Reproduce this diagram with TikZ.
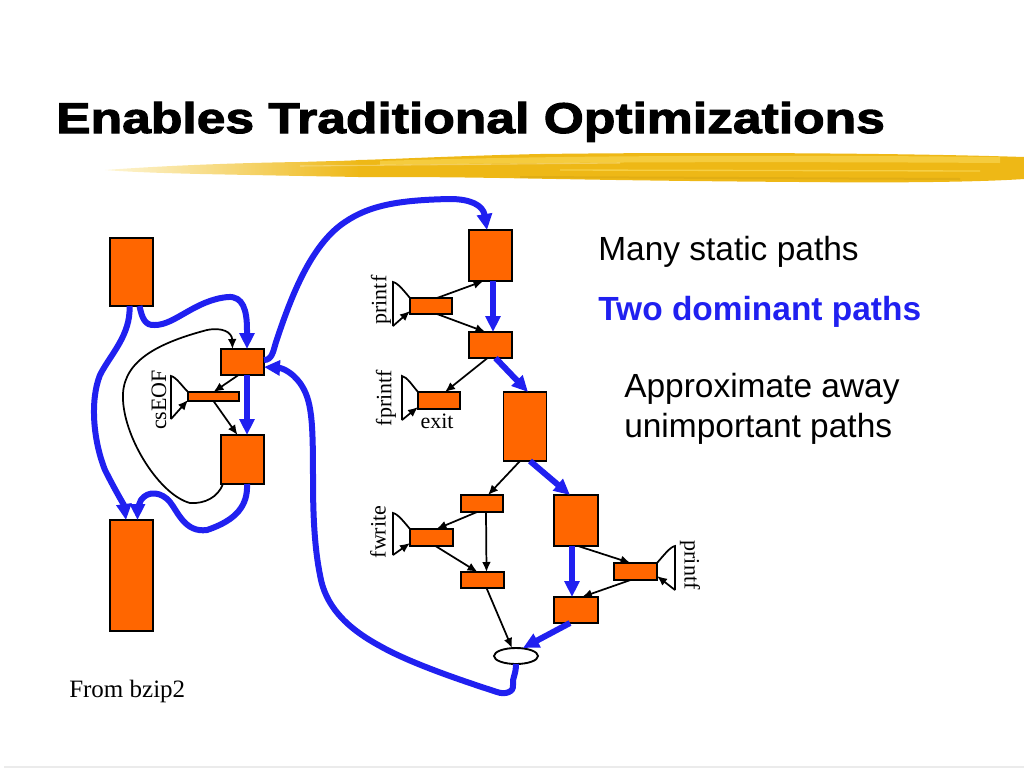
\documentclass[tikz,border=0pt]{standalone}
\usepackage{fontspec}
\setmainfont{Liberation Serif}
\newfontfamily\sansf{Liberation Sans}
\newfontfamily\titlef{Liberation Sans}[FakeStretch=1.2,BoldFeatures={FakeBold=2.5}]
\usetikzlibrary{arrows.meta,shapes.geometric,calc}
\definecolor{orng}{RGB}{255,102,0}
\definecolor{blu}{RGB}{32,32,240}
\definecolor{gold}{RGB}{238,184,22}
\definecolor{lgold}{RGB}{250,218,90}
\newlength\px \setlength\px{0.75pt}
\begin{document}
\begin{tikzpicture}[x=0.75pt,y=-0.75pt,
  bb/.style n args={2}{draw=black,line width=1.4pt,fill=orng,inner sep=0pt,outer sep=0pt,minimum width=#1\px,minimum height=#2\px},
  hot/.style={draw=blu,line width=4.5pt,-{Triangle[length=12pt,width=11pt]}},
  cold/.style={draw=black,line width=1.3pt,-{Latex[length=7.5pt,width=6.5pt]}},
  callsym/.style={draw=black,line width=1.3pt},
  lbl/.style={font=\fontsize{16.5}{18}\selectfont,inner sep=0pt},
  txt/.style={font=\sansf\fontsize{25.1}{30}\selectfont,inner sep=0pt,anchor=base west},
]
\useasboundingbox (0,0) rectangle (1024,768);

% brush stroke
\shade[left color=lgold!25, right color=gold]
  (105,170) .. controls (160,166) and (230,163) .. (300,162)
  .. controls (330,161) and (345,161) .. (360,160) -- (360,177)
  .. controls (300,176) and (250,175) .. (200,174)
  .. controls (160,173) and (130,172) .. (105,170) -- cycle;
\fill[gold]
  (358,160) .. controls (400,159) and (450,156) .. (540,154)
  .. controls (700,152) and (900,153) .. (1024,157) -- (1024,179)
  .. controls (980,182) and (900,183) .. (800,182)
  .. controls (650,181) and (560,179) .. (500,178)
  .. controls (440,177) and (400,177) .. (358,177) -- cycle;
\fill[lgold,opacity=0.6]
  (380,161) .. controls (500,157) and (700,154) .. (1000,157) -- (1000,163)
  .. controls (700,161) and (500,163) .. (380,165) -- cycle;
\draw[lgold,opacity=0.7,line width=1pt] (560,170) -- (980,171);
\draw[white,opacity=0.3,line width=0.8pt] (300,166) -- (620,163);
\draw[gold!80!black,opacity=0.25,line width=1.5pt] (520,177) -- (960,179);

\node[anchor=base west,inner sep=0pt,font=\titlef\bfseries\fontsize{32.25}{36}\selectfont] (title) at (56,133) {Enables Traditional Optimizations};

% left part
\node[bb={43}{68}] (A) at (131.5,272) {};
\node[bb={43}{26}] (B) at (242.5,362) {};
\node[bb={51}{9}] (cs) at (213.5,396.5) {};
\node[bb={43}{49}] (C) at (242.5,459.5) {};
\node[bb={43}{111}] (D) at (131.5,575.5) {};

% right part
\node[bb={43}{51}] (P1) at (490.5,255.5) {};
\node[bb={42}{16}] (pf1) at (431,306) {};
\node[bb={43}{26}] (P2) at (490.5,345) {};
\node[bb={42}{17}] (ex) at (439,400.5) {};
\node[bb={43}{69}] (P3) at (525,426.5) {};
\node[bb={42}{17}] (Q1) at (482,503.5) {};
\node[bb={43}{17}] (fw) at (431.5,537.5) {};
\node[bb={43}{16}] (Q2) at (482.5,580) {};
\node[bb={44}{51}] (R1) at (576,520.5) {};
\node[bb={43}{17}] (pf2) at (635.5,571.5) {};
\node[bb={44}{26}] (R2) at (576,610) {};
\node[ellipse,draw=black,line width=1.4pt,fill=white,inner sep=0pt,outer sep=0pt,minimum width=44\px,minimum height=16\px] (E) at (516,656) {};

% call symbols
\coordinate (csT) at (171,376); \coordinate (csB) at (171,419);
\draw[callsym] (cs.north west) .. controls (182,386) and (176,377) .. (csT) -- (csB);
\draw[cold] (csB) -- ([yshift=1\px]cs.south west);
\coordinate (pf1T) at (393,282); \coordinate (pf1B) at (393,326);
\draw[callsym] (pf1.north west) .. controls (404,291) and (398,283) .. (pf1T) -- (pf1B);
\draw[cold] (pf1B) -- ([yshift=3\px]pf1.south west);
\coordinate (exT) at (402,376); \coordinate (exB) at (402,420);
\draw[callsym] (ex.north west) .. controls (412,385) and (407,377) .. (exT) -- (exB);
\draw[cold] (exB) -- ([yshift=2\px]ex.south west);
\coordinate (fwT) at (393,513); \coordinate (fwB) at (393,555);
\draw[callsym] (fw.north west) .. controls (404,522) and (398,514) .. (fwT) -- (fwB);
\draw[cold] (fwB) -- ([yshift=3\px]fw.south west);
\coordinate (pf2T) at (675,546); \coordinate (pf2B) at (675,590);
\draw[callsym] (pf2.north east) .. controls (664,555) and (670,547) .. (pf2T) -- (pf2B);
\draw[cold] (pf2B) -- ([yshift=4\px]pf2.south east);

% labels
\node[lbl,rotate=90] (lcs) at (159,400) {csEOF};
\node[lbl,rotate=90] (lpf1) at (381,300) {printf};
\node[lbl,rotate=90] (lfp) at (386,398) {fprintf};
\node[lbl,anchor=base] (lex) at (437,428) {exit};
\node[lbl,rotate=90] (lfw) at (378,532) {fwrite};
\node[lbl,rotate=-90] (lpf2) at (690,565) {printf};

% black edges
\draw[cold] ([xshift=-4\px]B.south) -- (cs.north);
\draw[cold] (cs.south) -- ([xshift=-5\px]C.north);
\draw[cold] ([xshift=2\px]C.south west) .. controls (218,497) and (205,504) .. (190,503)
  .. controls (160,495) and (125,440) .. (123,400)
  .. controls (121,365) and (150,345) .. (207,330)
  .. controls (222,327) and (232,332) .. ([xshift=-10\px]B.north);
\draw[cold] ([xshift=6\px]pf1.north) -- ([xshift=-7\px]P1.south);
\draw[cold] ([xshift=6\px]pf1.south) -- ([xshift=-5\px]P2.north);
\draw[cold] ([xshift=-3\px]P2.south) -- ([xshift=6\px]ex.north);
\draw[cold] ([xshift=-5\px]P3.south) -- ([xshift=6\px]Q1.north);
\draw[cold] ([xshift=-5\px]Q1.south) -- ([xshift=5\px]fw.north);
\draw[cold] ([xshift=4\px]Q1.south) -- ([xshift=4\px]Q2.north);
\draw[cold] ([xshift=4\px]fw.south) -- ([xshift=-5\px]Q2.north);
\draw[cold] ([xshift=4\px]Q2.south) -- ([xshift=-4\px]E.north);
\draw[cold] ([xshift=2\px]R1.south) -- ([xshift=-5\px]pf2.north);
\draw[cold] ([xshift=-5\px]pf2.south) -- ([xshift=6\px]R2.north);

% blue edges
\draw[hot] ([xshift=8\px]A.south) .. controls (142,318) and (145,326) .. (155,325)
  .. controls (175,325) and (195,300) .. (228,297)
  .. controls (243,296) and (247,310) .. (247,330) -- ([xshift=4.5\px]B.north);
\draw[hot] ([xshift=-2\px]A.south) .. controls (131,335) and (110,355) .. (100,375)
  .. controls (90,400) and (93,440) .. (105,470)
  .. controls (115,490) and (124,505) .. ([xshift=-5.5\px]D.north);
\draw[hot] ([xshift=4.5\px]B.south) -- ([xshift=4.5\px]C.north);
\draw[hot] ([xshift=4.5\px]C.south) .. controls (248,505) and (237,520) .. (207,530)
  .. controls (185,533) and (178,512) .. (170,502)
  .. controls (162,492) and (148,490) .. (141,500)
  .. controls (138,506) and (137.5,512) .. ([xshift=6\px]D.north);
\draw[hot] ([yshift=2\px]B.east) .. controls (272,360) and (273,352) .. (276,342)
  .. controls (290,300) and (310,245) .. (345,222)
  .. controls (370,205) and (400,200) .. (450,199)
  .. controls (470,199) and (483,205) .. ([xshift=-3.5\px]P1.north);
\draw[hot] (E.south) .. controls (516,675) and (512,678) .. (513,685)
  .. controls (514,692) and (505,695) .. (497,692)
  .. controls (460,680) and (410,663) .. (380,646)
  .. controls (345,627) and (325,605) .. (320,575)
  .. controls (315,550) and (313,520) .. (313,480)
  .. controls (313,420) and (312,400) .. (300,383)
  .. controls (292,372) and (282,368) .. ([yshift=-5\px]B.east);
\draw[hot] ([xshift=2.5\px]P1.south) -- ([xshift=2.5\px]P2.north);
\draw[hot] ([xshift=5\px]P2.south) -- ([xshift=3\px]P3.north);
\draw[hot] ([xshift=5\px]P3.south) -- ([xshift=-6\px]R1.north);
\draw[hot] ([xshift=-4\px]R1.south) -- ([xshift=-4\px]R2.north);
\draw[hot] ([xshift=-6\px]R2.south) -- ([xshift=7\px]E.north);

% texts
\node[txt] (t1) at (598,260) {Many static paths};
\node[txt,text=blu,font=\sansf\bfseries\fontsize{25.1}{30}\selectfont] (t2) at (598,320) {Two dominant paths};
\node[txt] (t3) at (624,397) {Approximate away};
\node[txt] (t4) at (624,437) {unimportant paths};
\node[anchor=base west,inner sep=0pt,font=\fontsize{18.75}{20}\selectfont] (src) at (69,697) {From bzip2};

\draw[black!8,line width=1pt] (4,767) -- (1024,767);
\end{tikzpicture}
\end{document}
